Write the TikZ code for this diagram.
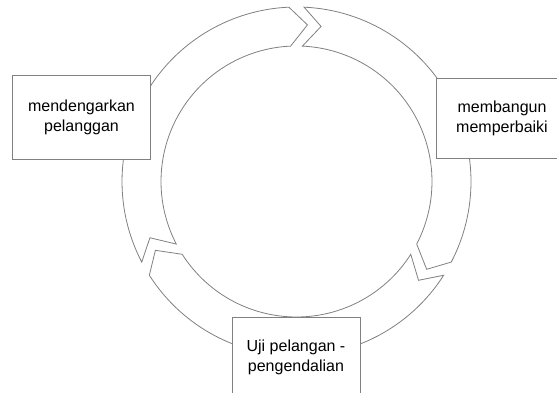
\documentclass[tikz,border=0pt]{standalone}
\usepackage{fontspec}
\setmainfont{Liberation Sans}
\begin{document}
\begin{tikzpicture}[x=1pt,y=1pt,
  seg/.style={draw=black!50, line width=0.8pt, line join=miter},
  lbl/.style={draw=black!50, fill=white, line width=0.8pt, align=center,
    font=\fontsize{16}{20}\selectfont, inner sep=0pt}]
\useasboundingbox (0,0) rectangle (557,392);
\clip (0,0) rectangle (557,392);
\begin{scope}[shift={(296.5,210.5)}]
\foreach \a in {207.5,87.5,-32.5}{
  \draw[seg] ({\a}:174.5pt) arc[start angle=\a, end angle=\a-115, radius=174.5pt]
    -- ({\a-121.5}:157pt) -- ({\a-115}:135.5pt)
    arc[start angle=\a-115, end angle=\a, radius=135.5pt]
    -- ({\a-6.5}:157pt) -- cycle;
}
\end{scope}
\node[lbl, minimum width=138.4pt, minimum height=83.4pt] (listen) at (81.5,274.6) {mendengarkan\\pelanggan};
\node[lbl, minimum width=130.6pt, minimum height=80pt] (build) at (502,273.7) {membangun\\memperbaiki};
\node[lbl, minimum width=128pt, minimum height=80pt] (test) at (296,35) {Uji pelangan -\\pengendalian};
\end{tikzpicture}
\end{document}
